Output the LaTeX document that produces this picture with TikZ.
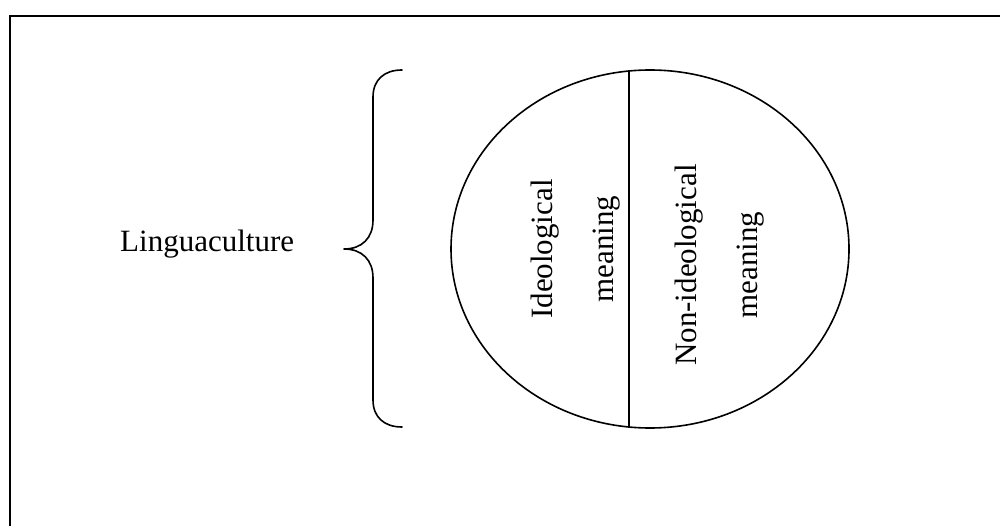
\documentclass[tikz,border=0pt]{standalone}
\usepackage{fontspec}
\setmainfont{Liberation Serif}
\begin{document}
\begin{tikzpicture}[x=1pt,y=-1pt,
  outline/.style={line width=1.6pt, line cap=round, line join=round},
  frameline/.style={line width=2.2pt},
  label/.style={font=\fontsize{31}{61}\selectfont, align=center, inner sep=0pt},
  vlabel/.style={label, rotate=90}]
  \useasboundingbox (0,0) rectangle (1000,526);

  % frame (top and left edges)
  \draw[frameline] (10,526) -- (10,16) -- (1000,16);

  % left-hand label
  \node[label, anchor=base west] (lc) at (120,252) {Linguaculture};

  % curly brace
  \draw[outline] (402,70) .. controls (384,70) and (373,80) .. (373,97)
    -- (373,220) .. controls (373,238) and (362,249) .. (344,249)
    .. controls (362,249) and (373,260) .. (373,278)
    -- (373,400) .. controls (373,417) and (384,427) .. (402,427);

  % oval split into two parts
  \draw[outline] (650,249) ellipse [x radius=199, y radius=179];
  \coordinate (divtop) at (629,71);
  \coordinate (divbot) at (629,427);
  \draw[outline] (divtop) -- (divbot);

  % rotated labels in each part
  \node[vlabel] (ideo) at (576,249) {Ideological\\meaning};
  \node[vlabel] (nonideo) at (719.5,265) {Non-ideological\\meaning};
\end{tikzpicture}
\end{document}
